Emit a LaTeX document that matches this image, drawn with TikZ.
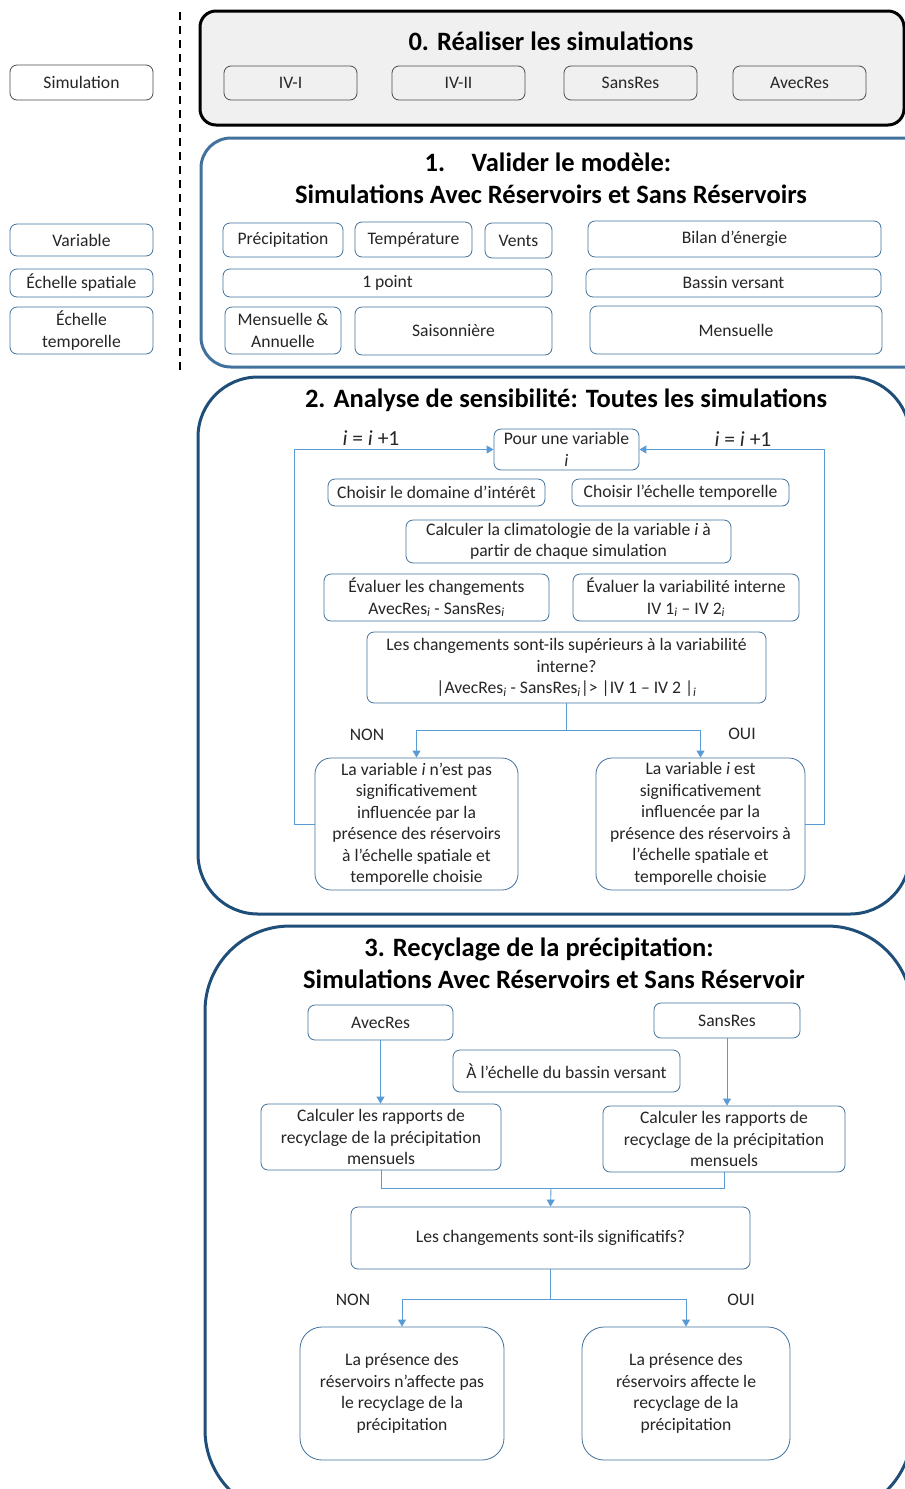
\documentclass[tikz,border=0pt]{standalone}
\usepackage{fontspec}
\setmainfont{Carlito}
\usetikzlibrary{arrows.meta,positioning}
\definecolor{boxblue}{HTML}{41719C}
\definecolor{navy}{HTML}{1F4E79}
\definecolor{lineblue}{HTML}{5B9BD5}
\definecolor{greybg}{HTML}{F0F0F0}

\begin{document}
\begin{tikzpicture}[x=1pt,y=-1pt,
  every node/.style={font=\fontsize{17.6}{21.5}\selectfont,text=black!85},
  box/.style={draw=boxblue,rounded corners=7pt,line width=0.8pt,fill=white,align=center,inner sep=1pt},
  gbox/.style={box,draw=black!70,fill=black!6},
  title/.style={font=\bfseries\fontsize{26.5}{32}\selectfont,text=black,align=center},
  link/.style={lineblue,line width=0.9pt},
  arr/.style={link,-{Triangle[width=8pt,length=7pt]}}]
\useasboundingbox (0,0) rectangle (905,1489);
\clip (0,0) rectangle (905,1489);

% frames
\draw[line width=3pt,rounded corners=16pt,fill=greybg] (200,11) rectangle (904,125);
\draw[boxblue,line width=3pt,rounded corners=30pt] (201,138) rectangle (935,367);
\draw[navy,line width=3pt,rounded corners=60pt] (198,377) rectangle (910,914);
\draw[navy,line width=3pt,rounded corners=85pt] (205,926) rectangle (912,1515);
\draw[line width=2pt,dash pattern=on 8pt off 6pt] (180,12) -- (180,372);

% legend
\node[gbox,fill=white,minimum width=143,minimum height=35] (sim) at (81.5,82.5) {Simulation};
\node[box,minimum width=143,minimum height=32] (var) at (81.5,240) {Variable};
\node[box,minimum width=143,minimum height=28] (esp) at (81.5,283) {Échelle spatiale};
\node[box,minimum width=143,minimum height=47] (etp) at (81.5,330.5) {Échelle\\temporelle};

% 0
\node[title] (t0) at (551,41) {0. Réaliser les simulations};
\node[gbox,minimum width=133,minimum height=34] (iv1) at (290.5,83) {IV-I};
\node[gbox,minimum width=133,minimum height=34] (iv2) at (458.5,83) {IV-II};
\node[gbox,minimum width=133,minimum height=34] (sr0) at (630.5,83) {SansRes};
\node[gbox,minimum width=133,minimum height=34] (ar0) at (799.5,83) {AvecRes};

% 1
\node[title] (t1) at (551,178) {1.\hspace{1em}Valider le modèle:\hspace*{6pt}\\Simulations Avec Réservoirs et Sans Réservoirs};
\node[box,minimum width=120,minimum height=34] (prec) at (283,240) {Précipitation};
\node[box,minimum width=117,minimum height=35] (temp) at (413.5,239.5) {Température};
\node[box,minimum width=67,minimum height=35] (vent) at (518.5,240.5) {Vents};
\node[box,minimum width=293,minimum height=36] (bil) at (734.5,239) {Bilan d’énergie};
\node[box,minimum width=329,minimum height=28] (pt1) at (387.5,283) {1 point};
\node[box,minimum width=295,minimum height=28] (bv) at (733.5,283) {Bassin versant};
\node[box,minimum width=116,minimum height=47] (ma) at (283,330.5) {Mensuelle \&\\Annuelle};
\node[box,minimum width=197,minimum height=48] (sai) at (453.5,331) {Saisonnière};
\node[box,minimum width=292,minimum height=48] (men) at (736,330) {Mensuelle};

% 2
\node[title] (t2) at (566,400) {2. Analyse de sensibilité: Toutes les simulations};
\node[box,minimum width=145,minimum height=41] (pv) at (566.5,449.5) {Pour une variable\\\textit{i}};
\node[box,minimum width=217,minimum height=27] (dom) at (436.5,492.5) {Choisir le domaine d’intérêt};
\node[box,minimum width=217,minimum height=27] (ech) at (680.5,492.5) {Choisir l’échelle temporelle};
\node[box,minimum width=325,minimum height=43] (clim) at (568.5,541.5) {Calculer la climatologie de la variable \textit{i} à\\partir de chaque simulation};
\node[box,minimum width=225,minimum height=47] (chg) at (436.5,597.5) {Évaluer les changements\\AvecRes\textsubscript{\textit{i}} - SansRes\textsubscript{\textit{i}}};
\node[box,minimum width=226,minimum height=47] (vi) at (686,597.5) {Évaluer la variabilité interne\\IV 1\textsubscript{\textit{i}} – IV 2\textsubscript{\textit{i}}};
\node[box,minimum width=399,minimum height=71] (sup) at (566.5,667.5) {Les changements sont-ils supérieurs à la variabilité\\interne?\\|AvecRes\textsubscript{\textit{i}} - SansRes\textsubscript{\textit{i}}|> |IV 1 – IV 2 |\textsubscript{\textit{i}}};
\node[box,rounded corners=16pt,minimum width=203,minimum height=132] (non2) at (416.5,824) {La variable \textit{i} n’est pas\\significativement\\influencée par la\\présence des réservoirs\\à l’échelle spatiale et\\temporelle choisie};
\node[box,rounded corners=16pt,minimum width=209,minimum height=132] (oui2) at (700.5,824) {La variable \textit{i} est\\significativement\\influencée par la\\présence des réservoirs à\\l’échelle spatiale et\\temporelle choisie};
\node (ln2) at (367,735) {NON};
\node (lo2) at (742,734) {OUI};
\node[font=\fontsize{21.5}{24}\selectfont] (inc1) at (371,438) {\textit{i} = \textit{i} +1};
\node[font=\fontsize{21.5}{24}\selectfont] (inc2) at (743,439) {\textit{i} = \textit{i} +1};
\draw[link] (sup.south) -- ++(0,27) coordinate (j2);
\draw[arr] (j2) -| (non2.north);
\draw[arr] (j2) -| (oui2.north);
\draw[arr] (non2.west) -- ++(-20,0) |- (pv.west);
\draw[arr] (oui2.east) -- ++(19,0) |- (pv.east);

% 3
\node[title] (t3) at (554,963) {3. Recyclage de la précipitation:\hspace*{30pt}\\Simulations Avec Réservoirs et Sans Réservoir};
\node[box,minimum width=145,minimum height=35] (ar3) at (380.5,1022.5) {AvecRes};
\node[box,minimum width=146,minimum height=35] (sr3) at (727,1020.5) {SansRes};
\node[box,minimum width=227,minimum height=42] (ebv) at (566.5,1071) {À l’échelle du bassin versant};
\node[box,minimum width=240,minimum height=66] (cl) at (381,1137) {Calculer les rapports de\\recyclage de la précipitation\\mensuels};
\node[box,minimum width=242,minimum height=66] (cr) at (724,1139) {Calculer les rapports de\\recyclage de la précipitation\\mensuels};
\node[box,minimum width=399,minimum height=62] (sig) at (550.5,1238) {Les changements sont-ils significatifs?};
\node[box,rounded corners=22pt,minimum width=204,minimum height=133] (non3) at (402,1393.5) {La présence des\\réservoirs n’affecte pas\\le recyclage de la\\précipitation};
\node[box,rounded corners=22pt,minimum width=208,minimum height=133] (oui3) at (686,1393.5) {La présence des\\réservoirs affecte le\\recyclage de la\\précipitation};
\node (ln3) at (353,1300) {NON};
\node (lo3) at (741,1300) {OUI};
\draw[arr] (ar3.south) -- (ar3.south |- cl.north);
\draw[arr] (sr3.south) -- (sr3.south |- cr.north);
\coordinate (m3) at (551,1188);
\draw[link] (cl.south) |- (m3) -| (cr.south);
\draw[arr] (m3) -- (sig.north);
\draw[link] (sig.south) -- ++(0,30) coordinate (j3);
\draw[arr] (j3) -| (non3.north);
\draw[arr] (j3) -| (oui3.north);
\end{tikzpicture}
\end{document}
